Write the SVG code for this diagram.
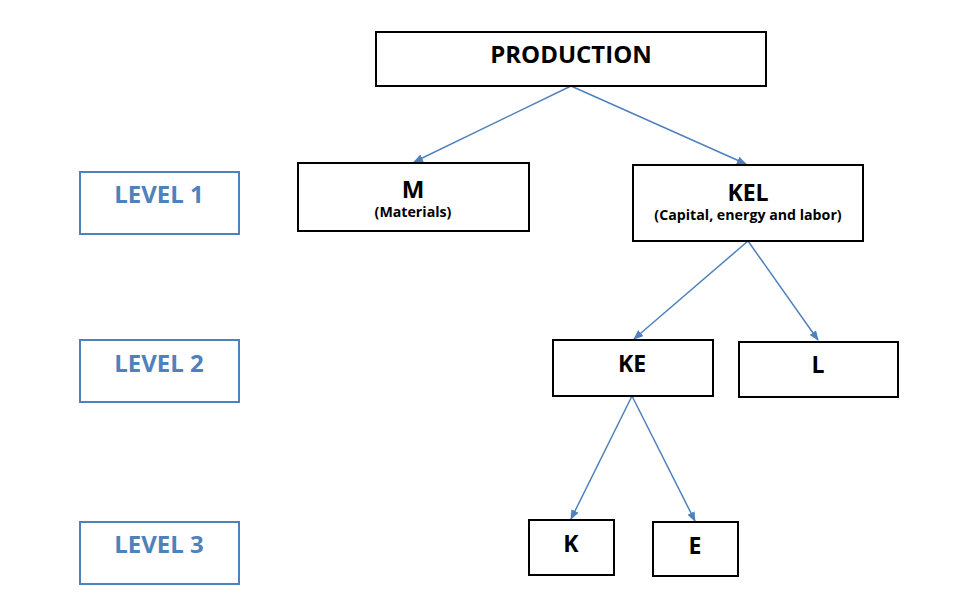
<svg xmlns="http://www.w3.org/2000/svg" width="974" height="614" viewBox="0 0 974 614">
<style>
.box{fill:#fff;stroke:#000;stroke-width:2}
.lvl{fill:#fff;stroke:#4F81BD;stroke-width:2}
.t{font-family:"Open Sans","Liberation Sans",sans-serif;font-weight:bold;fill:#000;text-anchor:middle}
.s{font-family:"Open Sans","Liberation Sans",sans-serif;font-weight:bold;fill:#000;text-anchor:middle;font-size:14.2px}
.lt{font-family:"Open Sans","Liberation Sans",sans-serif;font-weight:bold;fill:#4F81BD;text-anchor:middle;font-size:24px}
.c{stroke:#4F81BD;stroke-width:1.5;fill:none;marker-end:url(#ah)}
</style>
<defs>
<marker id="ah" markerWidth="10" markerHeight="8" refX="9" refY="4" orient="auto" markerUnits="userSpaceOnUse">
<path d="M0,0 L10,4 L0,8 Z" fill="#4F81BD"/>
</marker>
</defs>
<rect width="974" height="614" fill="#fff"/>
<g id="connectors">
<line class="c" x1="571" y1="86" x2="414" y2="162"/>
<line class="c" x1="571" y1="86" x2="746" y2="164"/>
<line class="c" x1="748" y1="241" x2="634" y2="339"/>
<line class="c" x1="748" y1="241" x2="818" y2="340"/>
<line class="c" x1="632" y1="396" x2="571" y2="519"/>
<line class="c" x1="632" y1="396" x2="695" y2="521"/>
</g>
<g id="level1"><rect class="lvl" x="80" y="172" width="159" height="62"/><text class="lt" x="159" y="203">LEVEL 1</text></g>
<g id="level2"><rect class="lvl" x="80" y="340" width="159" height="62"/><text class="lt" x="159" y="372">LEVEL 2</text></g>
<g id="level3"><rect class="lvl" x="80" y="522" width="159" height="62"/><text class="lt" x="159" y="553">LEVEL 3</text></g>
<g id="production"><rect class="box" x="376" y="32" width="390" height="54"/><text class="t" x="571" y="63" font-size="24">PRODUCTION</text></g>
<g id="m"><rect class="box" x="298" y="163" width="231" height="68"/><text class="t" x="413" y="198" font-size="24">M</text><text class="s" x="413" y="217">(Materials)</text></g>
<g id="kel"><rect class="box" x="633" y="165" width="230" height="76"/><text class="t" x="748" y="201" font-size="23">KEL</text><text class="s" x="748" y="220">(Capital, energy and labor)</text></g>
<g id="ke"><rect class="box" x="553" y="340" width="160" height="56"/><text class="t" x="632" y="372" font-size="23">KE</text></g>
<g id="l"><rect class="box" x="739" y="342" width="159" height="55"/><text class="t" x="818" y="373" font-size="23">L</text></g>
<g id="k"><rect class="box" x="529" y="520" width="85" height="55"/><text class="t" x="571" y="552" font-size="23">K</text></g>
<g id="e"><rect class="box" x="653" y="522" width="85" height="54"/><text class="t" x="695" y="554" font-size="23">E</text></g>
</svg>
